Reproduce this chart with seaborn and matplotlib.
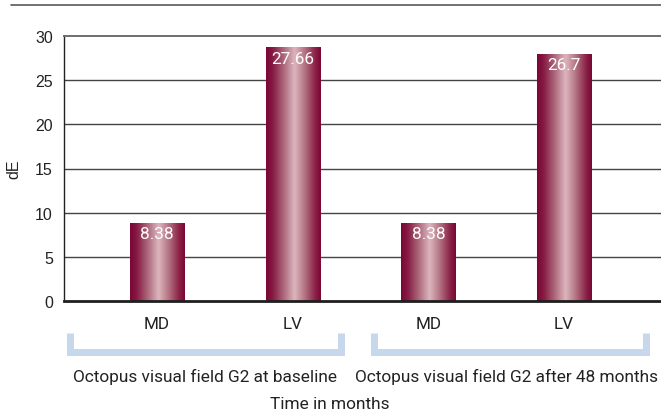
import numpy as np
import pandas as pd
import matplotlib
matplotlib.use("Agg")
import matplotlib.pyplot as plt
import matplotlib.transforms as mtransforms
from matplotlib.colors import LinearSegmentedColormap
import seaborn as sns

# ---- data ----
categories = ["MD", "LV", "MD", "LV"]
groups = ["Octopus visual field G2 at baseline", "Octopus visual field G2 after 48 months"]
bar_heights = [8.85, 28.75, 8.85, 28.0]
value_labels = ["8.38", "27.66", "8.38", "26.7"]
y_ticks = [0, 5, 10, 15, 20, 25, 30]
y_label = "dE"
x_label = "Time in months"

sns.set_theme(style="white")
plt.rcParams['font.family'] = ['Roboto', 'DejaVu Sans']

W, H = 661, 414
fig = plt.figure(figsize=(W / 100, H / 100), dpi=100)
ax_left, ax_right, ax_top, ax_bot = 64, 661, 37, 302
ax = fig.add_axes([ax_left / W, 1 - ax_bot / H, (ax_right - ax_left) / W, (ax_bot - ax_top) / H])

df = pd.DataFrame({"pos": [str(i) for i in range(len(categories))],
                   "value": bar_heights})
sns.barplot(data=df, x="pos", y="value", ax=ax, color="#7b0b3b", width=0.4,
            saturation=1, zorder=3, edgecolor="none")

ax.set_xlim(-0.685, 3.714)
ax.set_ylim(0, 30)
ax.set_yticks(y_ticks)
ax.set_yticklabels([str(t) for t in y_ticks], fontsize=11.5, family="Liberation Sans", color="#222222")
ax.set_xticks(range(len(categories)))
ax.set_xticklabels(categories, fontsize=12.3, color="#222222")
ax.tick_params(axis="x", length=0, pad=11)
ax.tick_params(axis="y", length=0, pad=8)
ax.set_xlabel("")
ax.set_ylabel(y_label, fontsize=11.5, family="Liberation Sans", color="#222222", labelpad=10)

for y in y_ticks[1:-1]:
    ax.axhline(y, color="#444444", lw=1.0, zorder=1)

ax.spines["right"].set_visible(False)
ax.spines["top"].set_color("#6e6e6e")
ax.spines["top"].set_linewidth(1.4)
ax.spines["left"].set_color("#222222")
ax.spines["left"].set_linewidth(1.0)
ax.spines["bottom"].set_color("#1e1e1e")
ax.spines["bottom"].set_linewidth(2.0)
ax.spines["bottom"].set_zorder(5)

# gradient fill on bars
cmap = LinearSegmentedColormap.from_list(
    "bar", [(0.0, "#7a0634"), (0.12, "#861a43"), (0.35, "#b27384"),
            (0.52, "#dcb6be"), (0.7, "#b57685"), (0.9, "#8a2046"), (1.0, "#7a0634")])
grad = np.linspace(0, 1, 256).reshape(1, -1)
for p, lab in zip(ax.patches, value_labels):
    x0, w, h = p.get_x(), p.get_width(), p.get_height()
    im = ax.imshow(grad, cmap=cmap, aspect="auto", extent=[x0, x0 + w, 0, h],
                   zorder=4, interpolation="bicubic")
    im.set_clip_path(p)
    ax.text(x0 + w / 2, h - 0.4, lab, ha="center", va="top", color="white",
            fontsize=12.3, zorder=6)
ax.set_xlim(-0.685, 3.714)
ax.set_ylim(0, 30)

# brackets below categories
trans = mtransforms.blended_transform_factory(ax.transData, ax.transAxes)
px = 135.7  # pixels per category step
def ypx(y):  # image pixel row -> axes fraction
    return (ax_bot - y) / (ax_bot - ax_top)
brackets = [(-0.67, 1.385), (1.57, 3.63)]
label_centers = [0.357, 2.575]
half = 3.5 / px
for (b0, b1), g, cx in zip(brackets, groups, label_centers):
    ax.plot([b0 + half, b0 + half, b1 - half, b1 - half],
            [ypx(334), ypx(352.5), ypx(352.5), ypx(334)],
            transform=trans, clip_on=False, color="#c7d7ec", lw=5.0,
            solid_joinstyle="miter", solid_capstyle="butt")
    ax.text(cx, ypx(377), g, transform=trans, ha="center", va="center",
            fontsize=12.4, color="#222222")

fig.text(330 / W, 1 - 405 / H, x_label, ha="center", va="center", fontsize=12.4, color="#222222")

# top rule
fig.add_artist(plt.Line2D([11 / W, 1.0], [1 - 6 / H, 1 - 6 / H], transform=fig.transFigure,
                          color="#5a5a5a", lw=1.2))

fig.savefig("out.png", dpi=100)
